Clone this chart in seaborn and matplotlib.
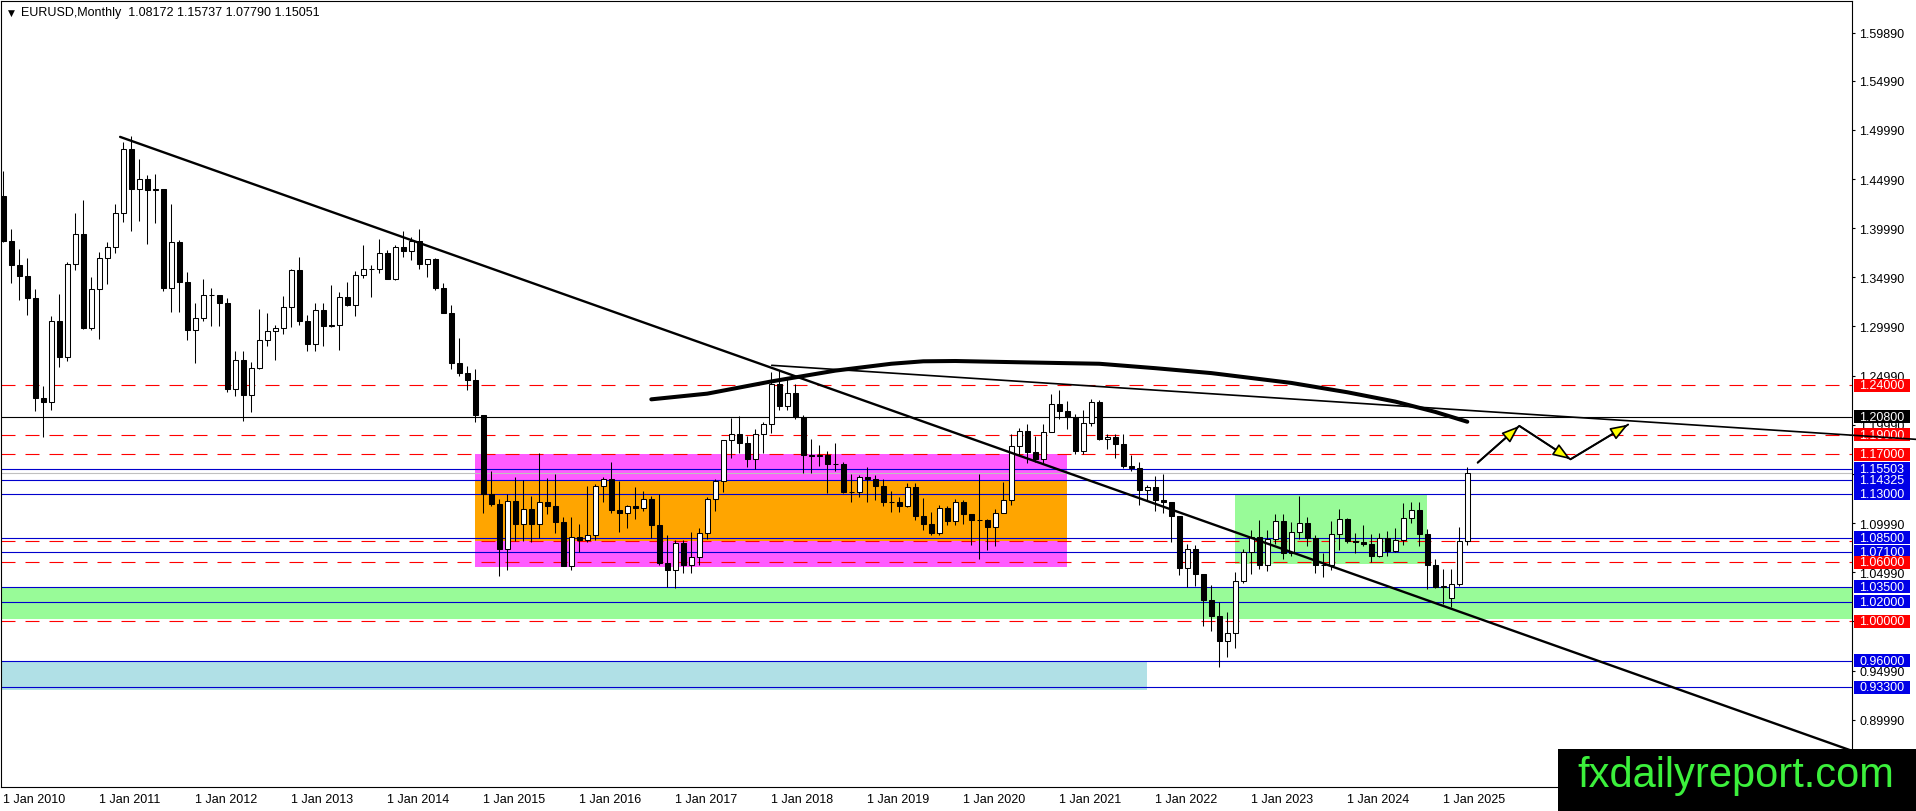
import numpy as np
import pandas as pd
import matplotlib
matplotlib.use("Agg")
import matplotlib.pyplot as plt
import matplotlib.transforms as mtransforms
from matplotlib.patches import Rectangle
import seaborn as sns

# EURUSD monthly candles, Jan 2010 -> Apr 2025 (one row per year)
opens = [
    1.4327, 1.3866, 1.3627, 1.3510, 1.3290, 1.2270, 1.2236, 1.3052, 1.2685, 1.3633, 1.3937, 1.2982,
    1.3384, 1.3692, 1.3806, 1.4158, 1.4807, 1.4393, 1.4501, 1.4391, 1.4399, 1.3388, 1.3856, 1.3450,
    1.2960, 1.3082, 1.3316, 1.3319, 1.3239, 1.2366, 1.2660, 1.2301, 1.2577, 1.2859, 1.2957, 1.2983,
    1.3193, 1.3577, 1.3056, 1.2819, 1.3168, 1.3000, 1.3010, 1.3303, 1.3220, 1.3525, 1.3583, 1.3589,
    1.3743, 1.3487, 1.3805, 1.3770, 1.3869, 1.3635, 1.3690, 1.3388, 1.3132, 1.2630, 1.2523, 1.2452,
    1.2100, 1.1290, 1.1196, 1.0731, 1.1224, 1.0987, 1.1146, 1.0985, 1.1211, 1.1177, 1.1006, 1.0566,
    1.0856, 1.0831, 1.0873, 1.1380, 1.1450, 1.1130, 1.1104, 1.1174, 1.1157, 1.1240, 1.0980, 1.0590,
    1.0520, 1.0798, 1.0574, 1.0652, 1.0895, 1.1244, 1.1426, 1.1842, 1.1906, 1.1812, 1.1647, 1.1902,
    1.2004, 1.2414, 1.2194, 1.2324, 1.2078, 1.1693, 1.1684, 1.1691, 1.1601, 1.1604, 1.1313, 1.1318,
    1.1467, 1.1446, 1.1372, 1.1217, 1.1214, 1.1168, 1.1371, 1.1076, 1.0987, 1.0899, 1.1151, 1.1017,
    1.1214, 1.1094, 1.1026, 1.1029, 1.0955, 1.1103, 1.1234, 1.1779, 1.1937, 1.1720, 1.1646, 1.1927,
    1.2213, 1.2136, 1.2075, 1.1728, 1.2019, 1.2227, 1.1858, 1.1870, 1.1808, 1.1578, 1.1558, 1.1338,
    1.1370, 1.1234, 1.1218, 1.1067, 1.0545, 1.0733, 1.0482, 1.0221, 1.0054, 0.9802, 0.9882, 1.0405,
    1.0705, 1.0862, 1.0576, 1.0839, 1.1017, 1.0690, 1.0910, 1.0998, 1.0843, 1.0573, 1.0575, 1.0886,
    1.1039, 1.0818, 1.0804, 1.0790, 1.0667, 1.0848, 1.0713, 1.0825, 1.1048, 1.1135, 1.0884, 1.0576,
    1.0354, 1.0240, 1.0375, 1.08172,
]
highs = [
    1.4579, 1.3990, 1.3783, 1.3692, 1.3384, 1.2390, 1.3104, 1.3334, 1.3651, 1.4158, 1.4282, 1.3500,
    1.3760, 1.3862, 1.4249, 1.4880, 1.4940, 1.4700, 1.4540, 1.4549, 1.4280, 1.4247, 1.3877, 1.3549,
    1.3235, 1.3487, 1.3387, 1.3282, 1.3284, 1.2747, 1.2749, 1.2637, 1.3173, 1.3140, 1.3013, 1.3308,
    1.3588, 1.3711, 1.3113, 1.3243, 1.3243, 1.3417, 1.3346, 1.3452, 1.3568, 1.3832, 1.3622, 1.3893,
    1.3775, 1.3825, 1.3967, 1.3906, 1.3993, 1.3677, 1.3700, 1.3445, 1.3222, 1.2886, 1.2600, 1.2570,
    1.2100, 1.1534, 1.1240, 1.1290, 1.1467, 1.1436, 1.1278, 1.1714, 1.1460, 1.1495, 1.1057, 1.1059,
    1.0986, 1.1376, 1.1400, 1.1464, 1.1616, 1.1428, 1.1186, 1.1366, 1.1327, 1.1278, 1.1300, 1.0874,
    1.0829, 1.0829, 1.0906, 1.0950, 1.1268, 1.1445, 1.1846, 1.2070, 1.2092, 1.1880, 1.1961, 1.2023,
    1.2537, 1.2556, 1.2476, 1.2414, 1.2097, 1.1852, 1.1791, 1.1734, 1.1815, 1.1625, 1.1500, 1.1486,
    1.1570, 1.1489, 1.1448, 1.1324, 1.1264, 1.1412, 1.1409, 1.1250, 1.1109, 1.1179, 1.1176, 1.1240,
    1.1239, 1.1096, 1.1496, 1.1040, 1.1147, 1.1422, 1.1909, 1.1966, 1.2011, 1.1881, 1.2004, 1.2310,
    1.2349, 1.2243, 1.2113, 1.2150, 1.2266, 1.2254, 1.1908, 1.1909, 1.1909, 1.1692, 1.1616, 1.1386,
    1.1483, 1.1495, 1.1185, 1.1076, 1.0787, 1.0773, 1.0486, 1.0368, 1.0198, 1.0094, 1.0497, 1.0736,
    1.0929, 1.1033, 1.0929, 1.1095, 1.1092, 1.1012, 1.1276, 1.1065, 1.0882, 1.0694, 1.1017, 1.1139,
    1.1046, 1.0897, 1.0981, 1.0885, 1.0895, 1.0916, 1.0948, 1.1202, 1.1214, 1.1214, 1.0937, 1.0630,
    1.0533, 1.0528, 1.0955, 1.15737,
]
lows = [
    1.3858, 1.3444, 1.3268, 1.3113, 1.2143, 1.1876, 1.2152, 1.2588, 1.2644, 1.3576, 1.2969, 1.2968,
    1.2867, 1.3430, 1.3748, 1.4065, 1.3968, 1.4072, 1.3837, 1.4050, 1.3362, 1.3145, 1.3146, 1.2858,
    1.2624, 1.3053, 1.3004, 1.3002, 1.2333, 1.2288, 1.2040, 1.2131, 1.2563, 1.2802, 1.2661, 1.2927,
    1.2998, 1.3019, 1.2750, 1.2745, 1.2796, 1.2995, 1.2755, 1.3206, 1.3104, 1.3490, 1.3295, 1.3547,
    1.3479, 1.3477, 1.3706, 1.3673, 1.3588, 1.3503, 1.3367, 1.3132, 1.2570, 1.2500, 1.2358, 1.2031,
    1.1098, 1.1175, 1.0458, 1.0520, 1.0818, 1.0819, 1.0808, 1.0848, 1.1087, 1.0896, 1.0558, 1.0521,
    1.0710, 1.0810, 1.0822, 1.1216, 1.1097, 1.0912, 1.0952, 1.1045, 1.1122, 1.0852, 1.0569, 1.0352,
    1.0340, 1.0494, 1.0494, 1.0569, 1.0839, 1.1119, 1.1312, 1.1662, 1.1717, 1.1574, 1.1554, 1.1717,
    1.1916, 1.2154, 1.2154, 1.2055, 1.1510, 1.1508, 1.1575, 1.1301, 1.1526, 1.1302, 1.1215, 1.1268,
    1.1215, 1.1234, 1.1176, 1.1110, 1.1107, 1.1160, 1.1028, 1.0926, 1.0879, 1.0879, 1.0981, 1.0981,
    1.0992, 1.0778, 1.0636, 1.0727, 1.0767, 1.1097, 1.1185, 1.1696, 1.1612, 1.1622, 1.1603, 1.1922,
    1.2053, 1.1952, 1.1704, 1.1704, 1.1986, 1.1847, 1.1752, 1.1664, 1.1563, 1.1524, 1.1186, 1.1221,
    1.1121, 1.1106, 1.0806, 1.0471, 1.0349, 1.0359, 0.9952, 0.9901, 0.9536, 0.9632, 0.9730, 1.0393,
    1.0483, 1.0533, 1.0516, 1.0788, 1.0635, 1.0662, 1.0834, 1.0766, 1.0488, 1.0448, 1.0517, 1.0724,
    1.0795, 1.0695, 1.0766, 1.0601, 1.0650, 1.0668, 1.0709, 1.0777, 1.1001, 1.0761, 1.0333, 1.0343,
    1.0178, 1.0141, 1.0359, 1.07790,
]
closes = [
    1.3866, 1.3627, 1.3510, 1.3290, 1.2270, 1.2236, 1.3052, 1.2685, 1.3633, 1.3937, 1.2982, 1.3384,
    1.3692, 1.3806, 1.4158, 1.4807, 1.4393, 1.4501, 1.4391, 1.4399, 1.3388, 1.3856, 1.3450, 1.2960,
    1.3082, 1.3316, 1.3319, 1.3239, 1.2366, 1.2660, 1.2301, 1.2577, 1.2859, 1.2957, 1.2983, 1.3193,
    1.3577, 1.3056, 1.2819, 1.3168, 1.3000, 1.3010, 1.3303, 1.3220, 1.3525, 1.3583, 1.3589, 1.3743,
    1.3487, 1.3805, 1.3770, 1.3869, 1.3635, 1.3690, 1.3388, 1.3132, 1.2630, 1.2523, 1.2452, 1.2100,
    1.1290, 1.1196, 1.0731, 1.1224, 1.0987, 1.1146, 1.0985, 1.1211, 1.1177, 1.1006, 1.0566, 1.0856,
    1.0831, 1.0873, 1.1380, 1.1450, 1.1130, 1.1104, 1.1174, 1.1157, 1.1240, 1.0980, 1.0590, 1.0520,
    1.0798, 1.0574, 1.0652, 1.0895, 1.1244, 1.1426, 1.1842, 1.1906, 1.1812, 1.1647, 1.1902, 1.2004,
    1.2414, 1.2194, 1.2324, 1.2078, 1.1693, 1.1684, 1.1691, 1.1601, 1.1604, 1.1313, 1.1318, 1.1467,
    1.1446, 1.1372, 1.1217, 1.1214, 1.1168, 1.1371, 1.1076, 1.0987, 1.0899, 1.1151, 1.1017, 1.1214,
    1.1094, 1.1026, 1.1029, 1.0955, 1.1103, 1.1234, 1.1779, 1.1937, 1.1720, 1.1646, 1.1927, 1.2213,
    1.2136, 1.2075, 1.1728, 1.2019, 1.2227, 1.1858, 1.1870, 1.1808, 1.1578, 1.1558, 1.1338, 1.1370,
    1.1234, 1.1218, 1.1067, 1.0545, 1.0733, 1.0482, 1.0221, 1.0054, 0.9802, 0.9882, 1.0405, 1.0705,
    1.0862, 1.0576, 1.0839, 1.1017, 1.0690, 1.0910, 1.0998, 1.0843, 1.0573, 1.0575, 1.0886, 1.1039,
    1.0818, 1.0804, 1.0790, 1.0667, 1.0848, 1.0713, 1.0825, 1.1048, 1.1135, 1.0884, 1.0576, 1.0354,
    1.0362, 1.0375, 1.0817, 1.15051,
]

years = list(range(2010, 2026))
date_labels = [f"1 Jan {y}" for y in years]
price_ticks = [1.5989, 1.5499, 1.4999, 1.4499, 1.3999, 1.3499, 1.2999, 1.2499,
               1.1999, 1.1499, 1.0999, 1.0499, 0.9999, 0.9499, 0.8999]

# horizontal levels
red_levels = [1.24, 1.19, 1.17, 1.0815, 1.06, 1.00]
red_labelled = [1.24, 1.19, 1.17, 1.06, 1.00]
blue_levels = [1.15503, 1.14325, 1.13, 1.085, 1.071, 1.035, 1.02, 0.96, 0.933]
black_level = 1.208
last_price = 1.15051

# zones: bar index from/to, price from/to
magenta_zone = (59, 133, 1.0555, 1.1705)
orange_zone = (59, 133, 1.0815, 1.14325)
green_box = (154, 178, 1.0585, 1.1300)
green_band = (-2, 240, 1.0027, 1.0350)
blue_band = (-2, 143, 0.9300, 0.9600)

# drawn lines (bar index, price)
trend1_x = [14.6, 231.1]
trend1_y = [1.4928, 0.8682]
trend2_x = [96.05, 239.1]
trend2_y = [1.2604, 1.1851]
arc_x = [81, 88, 96, 104, 111, 115, 119, 127, 137, 144, 151, 161, 168, 174, 179, 183]
arc_y = [1.2258, 1.2316, 1.2440, 1.2550, 1.2620, 1.2645, 1.2648, 1.2635, 1.2620,
         1.2575, 1.2525, 1.2425, 1.2330, 1.2235, 1.2130, 1.2030]
zig_x = [184.3, 189.5, 195.9, 203.1]
zig_y = [1.1614, 1.1988, 1.1648, 1.2001]

W, H = 1916, 812
sns.set_theme(style="white")
plt.rcParams['font.family'] = ['Liberation Sans', 'DejaVu Sans']

fig = plt.figure(figsize=(W / 100, H / 100), dpi=100)
fig.patch.set_facecolor("white")
ax = fig.add_axes([1 / W, 24 / H, 1851 / W, 786 / H])
ax.set_facecolor("white")

# zones
for (x0, x1, y0, y1), col in [(magenta_zone, "#ff5cff"), (orange_zone, "#ffa500"),
                              (green_box, "#98fb98"), (green_band, "#98fb98"),
                              (blue_band, "#b0e0e6")]:
    ax.add_patch(Rectangle((x0, y0), x1 - x0, y1 - y0, facecolor=col,
                           edgecolor="none", zorder=1))

# levels
for lv in red_levels:
    ax.axhline(lv, color="#ff0000", lw=0.8, ls=(0, (12.6, 9.0)), zorder=2)
for lv in blue_levels:
    ax.axhline(lv, color="#0000cd", lw=0.8, zorder=2)
ax.axhline(black_level, color="black", lw=0.8, zorder=2)
ax.axhline(last_price, color="#c0c0c0", lw=0.8, zorder=2)

# candles
df = pd.DataFrame({"open": opens, "high": highs, "low": lows, "close": closes})
df["x"] = np.arange(len(df))
up = df["close"] >= df["open"]
ax.vlines(df["x"], df["low"], df["high"], color="black", lw=0.75, zorder=3)
ax.bar(df["x"], df["close"] - df["open"], bottom=df["open"], width=0.6,
       color=np.where(up, "white", "black"), edgecolor="black", linewidth=0.75, zorder=4)

# trend lines and arc
sns.lineplot(x=trend1_x, y=trend1_y, ax=ax, color="black", lw=1.7, zorder=5)
sns.lineplot(x=trend2_x, y=trend2_y, ax=ax, color="black", lw=1.2, zorder=12)
ax.lines[-1].set_clip_on(False)
sns.lineplot(x=arc_x, y=arc_y, ax=ax, color="black", lw=2.9, sort=False, zorder=5)
ax.lines[-1].set_solid_capstyle("round")

# projected path with yellow arrow heads
sns.lineplot(x=zig_x, y=zig_y, ax=ax, color="black", lw=1.4, sort=False, zorder=6)
for k in range(len(zig_x) - 1):
    ax.annotate("", xy=(zig_x[k + 1], zig_y[k + 1]), xytext=(zig_x[k], zig_y[k]),
                arrowprops=dict(arrowstyle="-|>,head_length=0.6,head_width=0.22",
                                mutation_scale=18, fc="yellow", ec="black", lw=1.2,
                                shrinkA=0, shrinkB=0), zorder=7)

# axes styling
ax.set_xlim((1 - 3.3) / 8, (1852 - 3.3) / 8)
ax.set_ylim(1 - (788 - 622.3) / 983, 1 + (622.3 - 2) / 983)
for sp in ax.spines.values():
    sp.set_color("black")
    sp.set_linewidth(0.8)
ax.grid(False)
ax.set_xlabel("")
ax.set_ylabel("")

ax.yaxis.tick_right()
ax.set_yticks(price_ticks, labels=[f"{v:.5f}" for v in price_ticks])
ax.set_xticks([12 * k for k in range(len(years))], labels=date_labels)
for lbl in ax.get_xticklabels():
    lbl.set_horizontalalignment("left")
ax.tick_params(axis="both", which="major", direction="out", length=2.4, width=0.8,
               color="black", labelcolor="black", labelsize=9)
ax.tick_params(axis="y", pad=2.9)
ax.tick_params(axis="x", pad=2.0)

# coloured price labels on the right
blend = mtransforms.blended_transform_factory(fig.transFigure, ax.transData)
box_h = 13 / 983
label_items = ([(lv, "#ff0000") for lv in red_labelled if lv != 1.06]
               + [(black_level, "black")]
               + [(lv, "#0000e6") for lv in blue_levels]
               + [(1.06, "#ff0000")])
for lv, col in label_items:
    ax.add_patch(Rectangle((1854 / W, lv - box_h / 2), 56 / W, box_h, transform=blend,
                           facecolor=col, edgecolor="none", clip_on=False, zorder=10))
    ax.text(1859 / W, lv, f"{lv:.5f}", transform=blend, color="white", fontsize=9,
            ha="left", va="center", clip_on=False, zorder=11)

# header
fig.text(8 / W, 1 - 13 / H, "\u25bc", fontsize=6.5, color="black", va="center",
         family=["DejaVu Sans"])
fig.text(21 / W, 1 - 13 / H, "EURUSD,Monthly  1.08172 1.15737 1.07790 1.15051",
         fontsize=9, color="black", va="center")

# watermark
fig.add_artist(Rectangle((1558 / W, 0), (W - 1558) / W, 62 / H, transform=fig.transFigure,
                         facecolor="black", edgecolor="none", zorder=20))
fig.text(1736 / W, 1 - 776 / H, "fxdailyreport.com", fontsize=30, color="#3cf03c",
         ha="center", va="center", zorder=21)

fig.savefig("out.png", dpi=100)
